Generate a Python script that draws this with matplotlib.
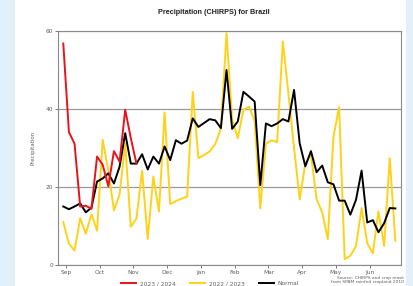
import numpy as np
import matplotlib
matplotlib.use('Agg')
from matplotlib import pyplot as plt
from matplotlib.patches import Rectangle

# pentad precipitation, Sep .. Jun (6 pentads per month)
months = ['Sep', 'Oct', 'Nov', 'Dec', 'Jan', 'Feb', 'Mar', 'Apr', 'May', 'Jun']

season_2324 = [56.8, 34.1, 31.1, 15.0, 15.2, 14.4, 27.8, 25.7, 20.2, 29.2,
               26.5, 39.8, 32.5, 26.0]

season_2223 = [11.0, 5.5, 3.7, 12.0, 8.0, 13.0, 8.8, 32.1, 24.1, 14.0,
               18.1, 31.1, 9.8, 11.9, 24.2, 6.7, 22.7, 13.7, 39.1, 15.6,
               16.4, 17.0, 17.5, 44.4, 27.4, 28.2, 29.1, 31.0, 35.0, 59.5,
               37.3, 32.5, 39.8, 40.6, 36.9, 14.5, 31.1, 32.0, 31.5, 57.3,
               44.0, 30.0, 16.8, 26.0, 28.5, 16.9, 13.5, 6.6, 32.9, 40.5,
               1.5, 2.4, 4.8, 14.6, 5.6, 3.0, 13.8, 4.9, 27.4, 6.2]

normal = [15.0, 14.3, 15.0, 15.8, 13.5, 14.7, 21.4, 22.2, 23.5, 20.9,
          25.2, 33.8, 26.0, 26.0, 28.4, 24.5, 27.8, 26.0, 30.4, 26.9,
          32.0, 31.1, 31.9, 37.6, 35.4, 36.4, 37.4, 37.1, 35.1, 50.0,
          34.9, 36.8, 44.4, 43.2, 41.9, 20.5, 36.3, 35.6, 36.3, 37.4,
          36.8, 44.9, 31.2, 25.3, 29.2, 23.8, 25.5, 21.2, 20.7, 16.5,
          16.5, 12.9, 16.7, 24.2, 10.9, 11.5, 8.4, 10.7, 14.6, 14.5]

W, H = 414, 286
fig = plt.figure(figsize=(W / 100, H / 100), dpi=100)
fig.patch.set_facecolor('white')

# light blue page margins
blue = '#E2F0FA'
fig.patches.append(Rectangle((0, 0), 15 / W, 1, transform=fig.transFigure,
                             facecolor=blue, edgecolor='none', zorder=-1))
fig.patches.append(Rectangle((406 / W, 0), 8 / W, 1, transform=fig.transFigure,
                             facecolor=blue, edgecolor='none', zorder=-1))

ax = fig.add_axes([58 / W, 1 - 265 / H, 343 / W, 234 / H])

grey = '#606060'
ax.plot(np.arange(len(season_2223)), season_2223, color='#FFD21A', lw=1.4,
        label='2022 / 2023', zorder=3)
ax.plot(np.arange(len(normal)), normal, color='black', lw=1.4,
        label='Normal', zorder=4)
ax.plot(np.arange(len(season_2324)), season_2324, color='#E8141B', lw=1.4,
        label='2023 / 2024', zorder=5)

ax.set_xlim(-0.94, 60)
ax.set_ylim(0, 60)
ax.set_yticks([0, 20, 40, 60])
ax.set_xticks(np.arange(len(months)) * 6 + 0.45)
ax.set_xticklabels(months)
ax.yaxis.grid(True, color='#9A9A9A', lw=0.9)
ax.set_axisbelow(True)
ax.tick_params(colors=grey, labelsize=4.2, length=2.5, width=0.6, pad=1.0)
for s in ax.spines.values():
    s.set_color('#8A8A8A')
    s.set_linewidth(0.8)
ax.set_ylabel('Precipitation', fontsize=4, color=grey, labelpad=7)

fig.text(213.5 / W, 1 - 13 / H, 'Precipitation (CHIRPS) for Brazil',
         ha='center', va='center', fontsize=5.2, fontweight='bold',
         family='Liberation Sans', color='#222222')

handles, labels = ax.get_legend_handles_labels()
order = [2, 0, 1]
fig.legend([handles[i] for i in order], [labels[i] for i in order],
           loc='center', bbox_to_anchor=(210 / W, 1 - 283.5 / H), ncol=3,
           frameon=False, fontsize=4.2, handlelength=2.6, columnspacing=2.5,
           handletextpad=0.6, labelcolor=grey)

fig.text(404 / W, 1 - 276 / H, 'Source: CHIRPS and crop mask\nfrom SPAM rainfed cropland 2010',
         ha='right', va='top', fontsize=3.2, color=grey, linespacing=1.0)

fig.savefig('out.png', dpi=100)
